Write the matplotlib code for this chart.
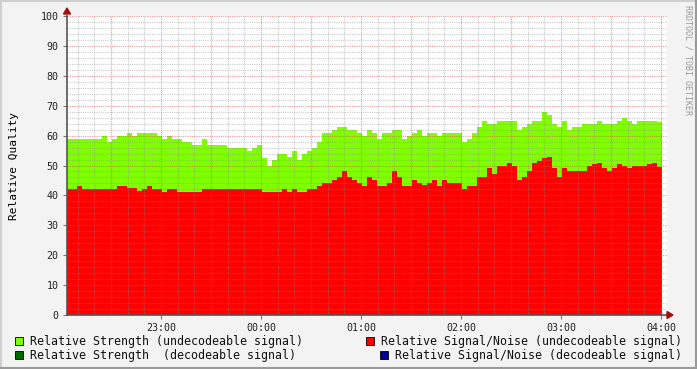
import numpy as np
import matplotlib
matplotlib.use("Agg")
import matplotlib.pyplot as plt
from matplotlib.patches import Rectangle, Polygon
from matplotlib.lines import Line2D

# samples every 3 minutes, starting 22:03.6 (minutes after 22:00)
start_min = 3.6
step_min = 3

strength = [59, 59, 59, 59, 59, 59, 59, 60, 58, 59,
            60, 60, 61, 60, 61, 61, 61, 61, 60, 59,
            60, 59, 59, 58, 58, 57, 57, 59, 57, 57,
            57, 57, 56, 56, 56, 56, 55, 56, 57, 52.5,
            50, 52, 54, 54, 53, 55, 52, 54, 55, 56,
            58, 61, 61, 62, 63, 63, 62, 62, 61, 60,
            62, 61, 59, 61, 61, 62, 62, 59, 60, 61,
            62, 60, 61, 61, 60, 61, 61, 61, 61, 58,
            59, 61, 63, 65, 64, 64, 65, 65, 65, 65,
            62, 63, 64, 65, 65, 68, 67, 64, 63, 65,
            62, 63, 63, 64, 64, 64, 65, 64, 64, 64,
            65, 66, 65, 64, 65, 65, 65, 65, 64.5]

snr = [42, 42, 43, 42, 42, 42, 42, 42, 42, 42,
       43, 43, 42.5, 42.5, 41.5, 42, 43, 42, 42, 41,
       42, 42, 41, 41, 41, 41, 41, 42, 42, 42,
       42, 42, 42, 42, 42, 42, 42, 42, 42, 41,
       41, 41, 41, 42, 41, 42, 41, 41, 42, 42,
       43, 44, 44, 45, 46, 48, 46, 45, 44, 43,
       46, 45, 43, 43, 44, 48, 46, 43, 43, 45,
       44, 43.5, 44, 45, 43, 45, 44, 44, 44, 42,
       43, 43, 46, 46, 49, 47, 50, 50, 51, 50,
       45, 46, 48, 51, 51.5, 52.5, 53, 49, 46, 49,
       48, 48, 48, 48, 50, 50.5, 51, 49, 48, 49,
       50.5, 50, 49, 50, 50, 50, 50.5, 51, 49.5]

hour_ticks = [60, 120, 180, 240, 300, 360]
hour_labels = ["23:00", "00:00", "01:00", "02:00", "03:00", "04:00"]

legend_labels = ["Relative Strength (undecodeable signal)",
                 "Relative Strength  (decodeable signal)",
                 "Relative Signal/Noise (undecodeable signal)",
                 "Relative Signal/Noise (decodeable signal)"]
legend_colors = ["#80ff00", "#006600", "#ff0000", "#000099"]

W, H = 697, 369
fig = plt.figure(figsize=(W / 100, H / 100), dpi=100, facecolor="#f3f3f3")
mono = "DejaVu Sans Mono"

ax = fig.add_axes([67 / W, 1 - 315 / H, 600 / W, 299 / H])
ax.set_facecolor("white")
edges = start_min + step_min * np.arange(len(strength) + 1)
ax.stairs(strength, edges, fill=True, color="#7fff00", baseline=0, zorder=1)
ax.stairs(snr, edges, fill=True, color="#ff0000", baseline=0, zorder=2)
ax.set_xlim(start_min, start_min + 360)
ax.set_ylim(0, 100)

# grid
dot = (0, (1, 1))
minor_c = (0.55, 0.55, 0.55, 0.45)
major_c = (0.85, 0.3, 0.3, 0.55)
for y in range(2, 101, 2):
    if y % 10 == 0:
        ax.axhline(y, color=major_c, lw=0.8, ls=dot, zorder=4)
    else:
        ax.axhline(y, color=minor_c, lw=0.8, ls=dot, zorder=3)
for t in range(10, 364, 10):
    if t % 30 == 0:
        ax.axvline(t, color=major_c, lw=0.8, ls=dot, zorder=4)
    else:
        ax.axvline(t, color=minor_c, lw=0.8, ls=dot, zorder=3)

for s in ["top", "right"]:
    ax.spines[s].set_visible(False)
for s in ["left", "bottom"]:
    ax.spines[s].set_color("#555555")
    ax.spines[s].set_linewidth(1.2)
    ax.spines[s].set_zorder(6)

ax.set_yticks(range(0, 101, 10))
ax.set_yticklabels([str(v) for v in range(0, 101, 10)])
ax.set_xticks(hour_ticks)
ax.set_xticklabels(hour_labels)
ax.tick_params(axis="both", length=3, width=0.8, color="#777777",
               labelsize=7.2, pad=3)
for lab in ax.get_xticklabels() + ax.get_yticklabels():
    lab.set_fontfamily(mono)
    lab.set_color("#222222")
ax.set_ylabel("Relative Quality", fontfamily=mono, fontsize=8, labelpad=6)
ax.yaxis.set_label_coords(-0.08, 0.5)

# arrow heads
fig.patches.append(Polygon([[(63.5) / W, 1 - 14 / H], [(70.5) / W, 1 - 14 / H], [67 / W, 1 - 8 / H]],
                           closed=True, transform=fig.transFigure, color="#a01010", zorder=10))
fig.patches.append(Polygon([[667 / W, 1 - 311.5 / H], [667 / W, 1 - 318.5 / H], [673 / W, 1 - 315 / H]],
                           closed=True, transform=fig.transFigure, color="#a01010", zorder=10))

# legend
rows = [(15, 341, 0), (15, 355, 1), (366, 341, 2), (380, 355, 3)]
for x0, y0, k in rows:
    fig.patches.append(Rectangle((x0 / W, 1 - (y0 + 4) / H), 8 / W, 8 / H,
                                 transform=fig.transFigure, facecolor=legend_colors[k],
                                 edgecolor="black", lw=0.6))
    fig.text((x0 + 15) / W, 1 - y0 / H, legend_labels[k], fontfamily=mono,
             fontsize=8.4, va="center", ha="left", color="#111111")

fig.text(688 / W, 1 - 5 / H, "RRDTOOL / TOBI OETIKER", rotation=-90, fontfamily=mono,
         fontsize=6, color="#999999", va="top", ha="center")

# 3d frame
fig.lines.append(Line2D([0, 1], [1 - 1 / H, 1 - 1 / H], transform=fig.transFigure, color="#cfcfcf", lw=1.5))
fig.lines.append(Line2D([1 / W, 1 / W], [0, 1], transform=fig.transFigure, color="#cfcfcf", lw=1.5))
fig.lines.append(Line2D([1 - 1 / W, 1 - 1 / W], [0, 1], transform=fig.transFigure, color="#9a9a9a", lw=1.5))
fig.lines.append(Line2D([0, 1], [1 / H, 1 / H], transform=fig.transFigure, color="#9a9a9a", lw=1.5))

fig.savefig("out.png", dpi=100, facecolor=fig.get_facecolor())
